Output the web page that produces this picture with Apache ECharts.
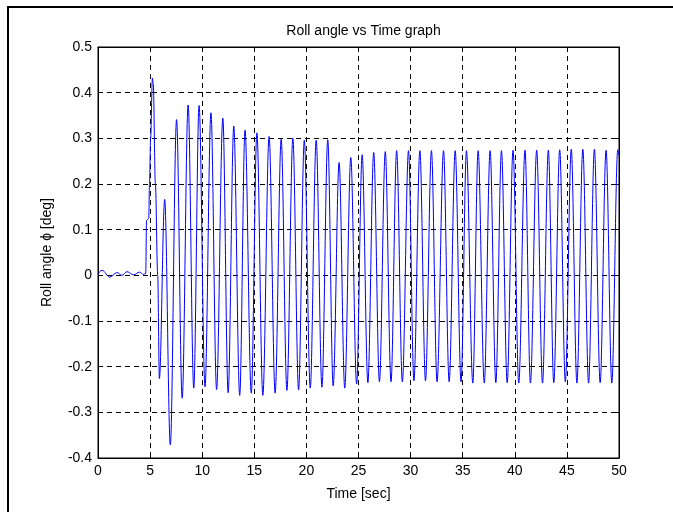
<!DOCTYPE html>
<html>
<head>
<meta charset="utf-8">
<title>Roll angle vs Time graph</title>
<script src="https://cdn.jsdelivr.net/npm/echarts@6/dist/echarts.min.js"></script>
<style>
  html, body { margin: 0; padding: 0; background: #fff; }
  #chart { width: 673px; height: 512px; }
</style>
</head>
<body>
<div id="chart"></div>
<script>
// Roll angle response: quiet ripple, then a sustained oscillation after ~4.6 s.
// Sample times [sec] and the roll angle phi [deg] at each of them.
const timeSec = [
  0.0, 0.4, 1.13, 1.83, 2.3, 2.78, 3.41, 3.98, 4.37, 4.58,
  4.66, 4.75, 4.87, 4.94, 5.05, 5.22, 5.30, 5.51, 5.73, 5.89,
  6.40, 6.94, 7.54, 8.08, 8.65, 9.19, 9.70, 10.27, 10.84, 11.38,
  11.98, 12.49, 13.03, 13.60, 14.11, 14.71, 15.25, 15.82, 16.42, 17.00,
  17.58, 18.13, 18.70, 19.25, 19.80, 20.37, 20.94, 21.49, 22.05, 22.57,
  23.14, 23.68, 24.26, 24.82, 25.35, 25.90, 26.46, 27.01, 27.57, 28.12,
  28.66, 29.21, 29.80, 30.32, 30.89, 31.43, 32.00, 32.54, 33.16, 33.70,
  34.28, 34.84, 35.36, 35.97, 36.48, 37.07, 37.63, 38.18, 38.72, 39.27,
  39.83, 40.38, 40.98, 41.50, 42.10, 42.66, 43.22, 43.74, 44.31, 44.85,
  45.42, 45.96, 46.53, 47.08, 47.64, 48.19, 48.76, 49.31, 49.88, 50.0
];
const rollDeg = [
  0.004, 0.011, -0.004, 0.006, 0.000, 0.008, 0.001, 0.007, 0.002, 0.004,
  0.120, 0.122, 0.125, 0.200, 0.300, 0.432, 0.420, 0.200, 0.000, -0.226,
  0.166, -0.371, 0.341, -0.269, 0.373, -0.247, 0.372, -0.244, 0.356, -0.250,
  0.344, -0.257, 0.327, -0.263, 0.318, -0.258, 0.312, -0.263, 0.304, -0.258,
  0.298, -0.252, 0.300, -0.251, 0.296, -0.247, 0.296, -0.245, 0.297, -0.242,
  0.247, -0.247, 0.258, -0.238, 0.264, -0.235, 0.269, -0.233, 0.271, -0.233,
  0.273, -0.233, 0.273, -0.231, 0.273, -0.231, 0.273, -0.233, 0.273, -0.233,
  0.273, -0.233, 0.273, -0.236, 0.273, -0.236, 0.273, -0.235, 0.273, -0.235,
  0.274, -0.236, 0.274, -0.236, 0.274, -0.236, 0.274, -0.235, 0.275, -0.233,
  0.276, -0.236, 0.276, -0.236, 0.276, -0.235, 0.274, -0.236, 0.275, 0.262
];

// Axis ranges and tick spacing
const xTicks = { min: 0, max: 50, step: 5 };
const yTicks = { min: -0.4, max: 0.5, step: 0.1 };

const chartTitle = 'Roll angle vs Time graph';
const xAxisName = 'Time [sec]';
const yAxisName = 'Roll angle \u03D5 [deg]';

const FONT = '"Liberation Sans", Arial, Helvetica, sans-serif';
const plot = { left: 98, top: 47, right: 54, bottom: 54 };

const chart = echarts.init(document.getElementById('chart'), null, { renderer: 'canvas' });

const points = timeSec.map((t, i) => [t, rollDeg[i]]);

const fmtY = v => {
  const r = Math.round(v * 10) / 10;
  return r === 0 ? '0' : String(r);
};

const dashed = { show: true, lineStyle: { color: '#000', type: [5, 4], width: 1 } };
const tickIn = { show: true, inside: true, length: 5, lineStyle: { color: '#000', width: 1 } };
const lineBlack = { show: true, onZero: false, lineStyle: { color: '#000', width: 1 } };
const labelStyle = { color: '#000', fontFamily: FONT, fontSize: 14 };

chart.setOption({
  animation: false,
  backgroundColor: '#fff',
  title: {
    text: chartTitle,
    left: plot.left + (673 - plot.left - plot.right) / 2,
    top: 19,
    textAlign: 'center',
    textStyle: { color: '#000', fontFamily: FONT, fontSize: 14, fontWeight: 'normal' }
  },
  graphic: [{
    type: 'rect',
    shape: { x: 8, y: 7, width: 900, height: 900 },
    style: { fill: 'none', stroke: '#000', lineWidth: 2 },
    silent: true
  }],
  grid: {
    left: plot.left, top: plot.top, right: plot.right, bottom: plot.bottom,
    show: true, borderColor: '#000', borderWidth: 1, backgroundColor: '#fff'
  },
  xAxis: [{
    type: 'value', position: 'bottom',
    min: xTicks.min, max: xTicks.max, interval: xTicks.step,
    name: xAxisName, nameLocation: 'middle', nameGap: 29,
    nameTextStyle: labelStyle,
    axisLine: lineBlack, axisTick: tickIn, splitLine: dashed,
    axisLabel: Object.assign({ margin: 6 }, labelStyle)
  }, {
    type: 'value', position: 'top',
    min: xTicks.min, max: xTicks.max, interval: xTicks.step,
    axisLine: lineBlack, axisTick: tickIn, splitLine: { show: false },
    axisLabel: { show: false }
  }],
  yAxis: [{
    type: 'value', position: 'left',
    min: yTicks.min, max: yTicks.max, interval: yTicks.step,
    name: yAxisName, nameLocation: 'middle', nameGap: 44, nameRotate: 90,
    nameTextStyle: labelStyle,
    axisLine: lineBlack, axisTick: tickIn, splitLine: dashed,
    axisLabel: Object.assign({ margin: 6, formatter: fmtY }, labelStyle)
  }, {
    type: 'value', position: 'right',
    min: yTicks.min, max: yTicks.max, interval: yTicks.step,
    axisLine: lineBlack, axisTick: tickIn, splitLine: { show: false },
    axisLabel: { show: false }
  }],
  series: [{
    type: 'line',
    data: points,
    xAxisIndex: 0, yAxisIndex: 0,
    showSymbol: false,
    symbol: 'none',
    sampling: null,
    smooth: 0.35,
    smoothMonotone: 'x',
    lineStyle: { color: '#0000ff', width: 1 },
    z: 3
  }]
});
</script>
</body>
</html>
